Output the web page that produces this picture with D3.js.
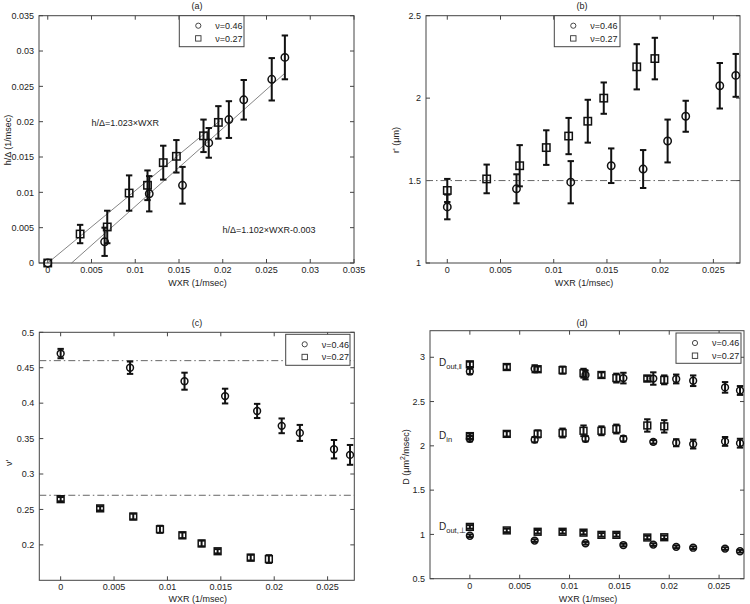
<!DOCTYPE html>
<html><head><meta charset="utf-8">
<script src="https://cdn.jsdelivr.net/npm/d3@7/dist/d3.min.js"></script>
<style>body{margin:0;background:#fff}svg{display:block}text{font-family:"Liberation Sans",Arial,sans-serif;fill:#222}</style>
</head><body><svg id="c" width="750" height="604"></svg>
<script>
// ---- data ----
const xSq = [0, 0.0037, 0.0068, 0.0093, 0.0114, 0.0132, 0.0147, 0.0178, 0.0195]; // nu=0.27
const xCi = [0, 0.0065, 0.0116, 0.0154, 0.0184, 0.0207, 0.0224, 0.0256, 0.0271]; // nu=0.46

// (a) h/Delta
const aSq = [0, 0.0041, 0.0051, 0.0099, 0.0110, 0.0142, 0.0151, 0.0180, 0.0199];
const aSqErr = [0, 0.0013, 0.0023, 0.0025, 0.0021, 0.0024, 0.0023, 0.0023, 0.0023];
const aCi = [0, 0.0030, 0.0098, 0.0110, 0.0170, 0.0203, 0.0231, 0.0260, 0.0291];
const aCiErr = [0, 0.0020, 0.0025, 0.0026, 0.0021, 0.0026, 0.0028, 0.0030, 0.0031];
const fit1 = {slope: 1.023, icpt: 0, x0: 0, x1: 0.0197, label: "h/Δ=1.023×WXR"};
const fit2 = {slope: 1.102, icpt: -0.003, x0: 0.00272, x1: 0.0271, label: "h/Δ=1.102×WXR-0.003"};

// (b) r'
const bSq = [1.44, 1.51, 1.59, 1.70, 1.77, 1.86, 2.00, 2.19, 2.24];
const bSqErr = [0.07, 0.087, 0.125, 0.105, 0.11, 0.13, 0.095, 0.137, 0.126];
const bCi = [1.34, 1.45, 1.49, 1.59, 1.57, 1.74, 1.89, 2.075, 2.138];
const bCiErr = [0.075, 0.088, 0.128, 0.105, 0.115, 0.13, 0.094, 0.138, 0.13];
const bRef = [1.5];

// (c) nu'
const cCi = [0.470, 0.450, 0.431, 0.410, 0.389, 0.368, 0.358, 0.335, 0.327];
const cCiErr = [0.0066, 0.0087, 0.012, 0.0104, 0.010, 0.0104, 0.0113, 0.013, 0.014];
const cSq = [0.2645, 0.2515, 0.240, 0.222, 0.2135, 0.202, 0.191, 0.182, 0.180];
const cSqErr = [0.003, 0.003, 0.004, 0.005, 0.004, 0.004, 0.003, 0.004, 0.0055];
const cRef = [0.46, 0.27];

// (d) D
const dParSq = [2.92, 2.89, 2.865, 2.855, 2.82, 2.80, 2.765, 2.76, 2.745];
const dParSqErr = [0.03, 0.03, 0.03, 0.04, 0.05, 0.03, 0.05, 0.03, 0.05];
const dParCi = [2.84, 2.87, 2.80, 2.765, 2.76, 2.755, 2.735, 2.66, 2.625];
const dParCiErr = [0.03, 0.04, 0.05, 0.06, 0.07, 0.05, 0.06, 0.06, 0.05];
const dInSq = [2.11, 2.135, 2.135, 2.145, 2.17, 2.17, 2.19, 2.23, 2.22];
const dInSqErr = [0.03, 0.03, 0.04, 0.05, 0.06, 0.05, 0.05, 0.07, 0.07];
const dInCi = [2.08, 2.07, 2.08, 2.08, 2.045, 2.035, 2.02, 2.05, 2.03];
const dInCiErr = [0.03, 0.03, 0.03, 0.03, 0.02, 0.04, 0.05, 0.05, 0.05];
const dPerpSq = [1.085, 1.045, 1.03, 1.03, 1.02, 0.995, 0.995, 0.965, 0.968];
const dPerpSqErr = [0.02, 0.02, 0.02, 0.02, 0.02, 0.02, 0.02, 0.02, 0.02];
const dPerpCi = [0.985, 0.93, 0.90, 0.88, 0.885, 0.86, 0.85, 0.84, 0.81];
const dPerpCiErr = [0.015, 0.015, 0.015, 0.015, 0.015, 0.015, 0.015, 0.015, 0.015];

const xTicksA = [0, 0.005, 0.01, 0.015, 0.02, 0.025, 0.03, 0.035];
const xTicks = [0, 0.005, 0.01, 0.015, 0.02, 0.025];
const yTicksA = [0, 0.005, 0.01, 0.015, 0.02, 0.025, 0.03, 0.035];
const yTicksB = [1, 1.5, 2, 2.5];
const yTicksC = [0.2, 0.25, 0.3, 0.35, 0.4, 0.45, 0.5];
const yTicksD = [0.5, 1, 1.5, 2, 2.5, 3];
const legendLabels = ["ν=0.46", "ν=0.27"];

// ---- drawing ----
const svg = d3.select("#c");
const fmt = v => String(+v.toFixed(4));
const FS = 9;

function panel(o) {
  const g = svg.append("g");
  const x = d3.scaleLinear().domain(o.xd).range([o.L, o.R]);
  const y = d3.scaleLinear().domain(o.yd).range([o.B, o.T]);
  const tl = 4;
  g.append("rect").attr("x", o.L).attr("y", o.T).attr("width", o.R - o.L).attr("height", o.B - o.T)
    .attr("fill", "none").attr("stroke", "#444").attr("stroke-width", 1);
  o.xt.forEach(v => {
    const px = x(v);
    g.append("line").attr("x1", px).attr("x2", px).attr("y1", o.B).attr("y2", o.B - tl).attr("stroke", "#444");
    g.append("line").attr("x1", px).attr("x2", px).attr("y1", o.T).attr("y2", o.T + tl).attr("stroke", "#444");
    g.append("text").attr("x", px).attr("y", o.B + 10).attr("text-anchor", "middle").attr("font-size", FS).text(fmt(v));
  });
  o.yt.forEach(v => {
    const py = y(v);
    g.append("line").attr("x1", o.L).attr("x2", o.L + tl).attr("y1", py).attr("y2", py).attr("stroke", "#444");
    g.append("line").attr("x1", o.R).attr("x2", o.R - tl).attr("y1", py).attr("y2", py).attr("stroke", "#444");
    g.append("text").attr("x", o.L - 5).attr("y", py + 3.2).attr("text-anchor", "end").attr("font-size", FS).text(fmt(v));
  });
  g.append("text").attr("x", o.tx).attr("y", o.ty).attr("text-anchor", "middle").attr("font-size", FS).text(o.title);
  g.append("text").attr("x", (o.L + o.R) / 2 + 1).attr("y", o.xly).attr("text-anchor", "middle").attr("font-size", FS).text("WXR (1/msec)");
  const yl = g.append("text").attr("transform", `translate(${o.ylx},${o.yly}) rotate(-90)`).attr("text-anchor", "middle").attr("font-size", FS);
  o.ylab(yl);
  (o.refs || []).forEach(v => {
    g.append("line").attr("x1", o.L).attr("x2", o.R).attr("y1", y(v)).attr("y2", y(v))
      .attr("stroke", "#666").attr("stroke-width", 1).attr("stroke-dasharray", "7,3,1.5,3");
  });
  (o.fits || []).forEach(f => {
    g.append("line").attr("x1", x(f.x0)).attr("x2", x(f.x1))
      .attr("y1", y(f.slope * f.x0 + f.icpt)).attr("y2", y(f.slope * f.x1 + f.icpt))
      .attr("stroke", "#666").attr("stroke-width", 0.8);
  });
  o.series.forEach(s => {
    const pts = s.xs.map((xv, i) => ({x: xv, y: s.ys[i], e: s.es[i]}));
    pts.forEach(p => {
      if (p.e > 0) {
        const px = x(p.x), y1 = y(p.y - p.e), y2 = y(p.y + p.e);
        g.append("line").attr("x1", px).attr("x2", px).attr("y1", y1).attr("y2", y2).attr("stroke", "#111").attr("stroke-width", 2);
        [y1, y2].forEach(yy => g.append("line").attr("x1", px - 3.2).attr("x2", px + 3.2).attr("y1", yy).attr("y2", yy).attr("stroke", "#111").attr("stroke-width", 2));
      }
    });
    pts.forEach(p => {
      const px = x(p.x), py = y(p.y), r = o.ms;
      if (s.shape === "c") g.append("circle").attr("cx", px).attr("cy", py).attr("r", r).attr("fill", "none").attr("stroke", "#111").attr("stroke-width", 1.5);
      else g.append("rect").attr("x", px - r).attr("y", py - r).attr("width", 2 * r).attr("height", 2 * r).attr("fill", "none").attr("stroke", "#111").attr("stroke-width", 1.5);
    });
  });
  const lg = o.leg;
  g.append("rect").attr("x", lg[0]).attr("y", lg[1]).attr("width", lg[2]).attr("height", lg[3]).attr("fill", "#fff").attr("stroke", "#444");
  legendLabels.forEach((t, i) => {
    const cy = lg[1] + 10 + i * 12.7, cx = lg[0] + 19;
    if (i === 0) g.append("circle").attr("cx", cx).attr("cy", cy).attr("r", 2.6).attr("fill", "none").attr("stroke", "#333").attr("stroke-width", 0.9);
    else g.append("rect").attr("x", cx - 2.7).attr("y", cy - 2.7).attr("width", 5.4).attr("height", 5.4).attr("fill", "none").attr("stroke", "#333").attr("stroke-width", 0.9);
    g.append("text").attr("x", lg[0] + 36).attr("y", cy + 3.2).attr("font-size", FS).text(t);
  });
  return {g, x, y};
}

// (a)
const A = panel({L: 39, R: 354, T: 15.7, B: 263, xd: [-0.001, 0.035], yd: [0, 0.035], xt: xTicksA, yt: yTicksA,
  title: "(a)", tx: 197, ty: 8.5, xly: 285.5, ylx: 10.5, yly: 140, ms: 3.7,
  ylab: t => t.text("h/Δ (1/msec)"), fits: [fit1, fit2],
  series: [{xs: xCi, ys: aCi, es: aCiErr, shape: "c"}, {xs: xSq, ys: aSq, es: aSqErr, shape: "s"}],
  leg: [179.3, 15.7, 64.7, 31]});
A.g.append("text").attr("x", 91.5).attr("y", 126).attr("font-size", FS).text(fit1.label);
A.g.append("text").attr("x", 222.5).attr("y", 232.5).attr("font-size", FS).text(fit2.label);

// (b)
panel({L: 426, R: 740, T: 15.7, B: 263, xd: [-0.002, 0.0275], yd: [1, 2.5], xt: xTicks, yt: yTicksB,
  title: "(b)", tx: 582, ty: 8.5, xly: 285.5, ylx: 398.5, yly: 140, ms: 3.7,
  ylab: t => t.text("r' (μm)"), refs: bRef,
  series: [{xs: xCi, ys: bCi, es: bCiErr, shape: "c"}, {xs: xSq, ys: bSq, es: bSqErr, shape: "s"}],
  leg: [554.3, 15.7, 65.7, 31]});

// (c)
panel({L: 39.3, R: 354.3, T: 332.3, B: 580.3, xd: [-0.002, 0.0275], yd: [0.15, 0.5], xt: xTicks, yt: yTicksC,
  title: "(c)", tx: 197, ty: 325.5, xly: 601.5, ylx: 12, yly: 463, ms: 3.4,
  ylab: t => t.text("ν'"), refs: cRef,
  series: [{xs: xCi, ys: cCi, es: cCiErr, shape: "c"}, {xs: xSq, ys: cSq, es: cSqErr, shape: "s"}],
  leg: [285.7, 334.3, 64.3, 31]});

// (d)
const D = panel({L: 430, R: 744, T: 330.7, B: 578.7, xd: [-0.004, 0.0275], yd: [0.5, 3.3], xt: xTicks, yt: yTicksD,
  title: "(d)", tx: 582, ty: 325.5, xly: 601.5, ylx: 409, yly: 457, ms: 3.4,
  ylab: t => { t.append("tspan").text("D (μm"); t.append("tspan").attr("dy", -4).attr("font-size", 7).text("2"); t.append("tspan").attr("dy", 4).text("/msec)"); },
  series: [
    {xs: xCi, ys: dParCi, es: dParCiErr, shape: "c"}, {xs: xSq, ys: dParSq, es: dParSqErr, shape: "s"},
    {xs: xCi, ys: dInCi, es: dInCiErr, shape: "c"}, {xs: xSq, ys: dInSq, es: dInSqErr, shape: "s"},
    {xs: xCi, ys: dPerpCi, es: dPerpCiErr, shape: "c"}, {xs: xSq, ys: dPerpSq, es: dPerpSqErr, shape: "s"}],
  leg: [676, 333, 65, 30.3]});
const rowLabs = [{main: "D", sub: "out,‖", v: 2.92}, {main: "D", sub: "in", v: 2.1}, {main: "D", sub: "out,⊥", v: 1.07}];
rowLabs.forEach(r => {
  const t = D.g.append("text").attr("x", 439).attr("y", D.y(r.v) + 2).attr("font-size", 10);
  t.append("tspan").text(r.main);
  t.append("tspan").attr("dy", 3).attr("font-size", 7.5).text(r.sub);
});
</script></body></html>
